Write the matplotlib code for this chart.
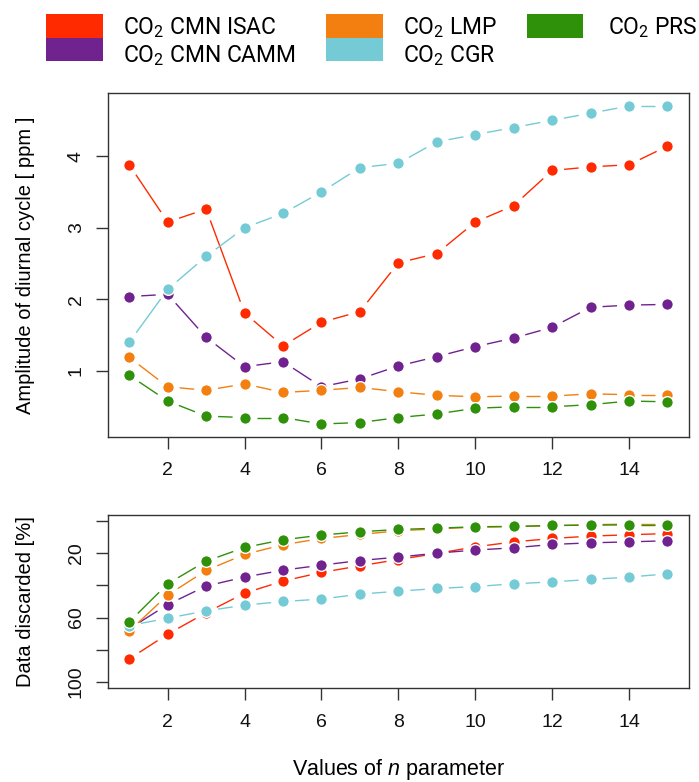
import numpy as np
import matplotlib
matplotlib.use("Agg")
import matplotlib.pyplot as plt
from matplotlib.patches import Rectangle

plt.rcParams["font.family"] = ["Liberation Sans", "DejaVu Sans"]
plt.rcParams["mathtext.fontset"] = "custom"
plt.rcParams["mathtext.it"] = "Liberation Sans:italic"
plt.rcParams["mathtext.default"] = "regular"

# ---- data ----
n_values = list(range(1, 16))
series_names = ["CO$_2$ CMN ISAC", "CO$_2$ CMN CAMM", "CO$_2$ LMP", "CO$_2$ CGR", "CO$_2$ PRS"]
series_colors = ["#FF2A00", "#70228F", "#F27F10", "#74CBD5", "#2F900A"]

# amplitude of diurnal cycle [ppm]
amp_isac = [3.88, 3.08, 3.26, 1.81, 1.35, 1.68, 1.83, 2.51, 2.64, 3.08, 3.31, 3.80, 3.85, 3.88, 4.14]
amp_camm = [2.04, 2.07, 1.47, 1.06, 1.13, 0.78, 0.89, 1.07, 1.20, 1.34, 1.46, 1.61, 1.89, 1.92, 1.93]
amp_lmp = [1.19, 0.78, 0.73, 0.82, 0.70, 0.73, 0.77, 0.71, 0.66, 0.64, 0.65, 0.65, 0.68, 0.67, 0.67]
amp_cgr = [1.40, 2.14, 2.60, 3.00, 3.20, 3.50, 3.84, 3.90, 4.20, 4.30, 4.40, 4.50, 4.60, 4.70, 4.70]
amp_prs = [0.94, 0.58, 0.37, 0.35, 0.35, 0.26, 0.28, 0.35, 0.40, 0.48, 0.50, 0.50, 0.53, 0.58, 0.57]

# data discarded [%]
disc_isac = [85.7, 70.3, 57.0, 44.8, 37.3, 31.9, 27.8, 23.9, 20.1, 16.0, 12.9, 10.8, 9.3, 8.5, 7.7]
disc_camm = [67.0, 51.9, 40.4, 34.8, 30.5, 27.4, 24.5, 22.4, 19.9, 18.0, 16.6, 14.5, 13.5, 12.9, 12.2]
disc_lmp = [68.4, 46.0, 30.7, 20.7, 14.7, 10.8, 8.3, 6.0, 4.8, 3.8, 3.4, 2.9, 2.2, 1.9, 1.9]
disc_cgr = [65.0, 60.4, 55.8, 52.3, 50.0, 48.5, 45.4, 43.6, 41.9, 40.7, 39.0, 37.8, 36.3, 34.8, 32.8]
disc_prs = [62.7, 39.0, 24.9, 16.4, 11.6, 8.7, 6.6, 5.2, 4.4, 3.5, 3.3, 2.7, 2.5, 2.3, 2.3]

amp_series = [amp_isac, amp_camm, amp_lmp, amp_cgr, amp_prs]
disc_series = [disc_isac, disc_camm, disc_lmp, disc_cgr, disc_prs]

disc_ticks = [0, 20, 40, 60, 80, 100]
disc_ticklabels = ["", "20", "", "60", "", "100"]

W, H = 699, 782
GAP = 12.0  # px left blank around each point (R type="b")


def draw_series(ax, x, y, color):
    # segments shortened in display space, then points on top
    pts = ax.transData.transform(np.column_stack([x, y]))
    inv = ax.transData.inverted()
    for p0, p1 in zip(pts[:-1], pts[1:]):
        d = p1 - p0
        length = np.hypot(d[0], d[1])
        if length <= 2 * GAP:
            continue
        u = d / length
        seg = inv.transform(np.array([p0 + u * GAP, p1 - u * GAP]))
        ax.plot(seg[:, 0], seg[:, 1], color=color, lw=1.0, solid_capstyle="butt")
    ax.plot(x, y, "o", color=color, ms=8.4, mec="white", mew=1.0, zorder=3)


def style_axes(ax):
    for sp in ax.spines.values():
        sp.set_color("#333333")
        sp.set_linewidth(1.0)
    ax.tick_params(direction="out", length=8.5, width=1.0, color="#333333",
                   labelsize=14, labelcolor="#111111")
    ax.tick_params(axis="x", pad=10)
    ax.tick_params(axis="y", pad=8, labelrotation=90)
    plt.setp(ax.get_yticklabels(), va="center")


fig = plt.figure(figsize=(W / 100, H / 100), dpi=100)
ax1 = fig.add_axes([107.7 / W, 1 - 436.7 / H, 581.3 / W, 343.4 / H])
ax2 = fig.add_axes([107.7 / W, 1 - 688.3 / H, 581.3 / W, 173.6 / H])

# R-style 4% padding on the ranges
xr = max(n_values) - min(n_values)
xlim = (min(n_values) - 0.04 * xr, max(n_values) + 0.04 * xr)
lo = min(min(s) for s in amp_series)
hi = max(max(s) for s in amp_series)
ax1.set_xlim(*xlim)
ax1.set_ylim(lo - 0.04 * (hi - lo), hi + 0.04 * (hi - lo))
ax2.set_xlim(*xlim)
ax2.set_ylim(100 + 4, 0 - 4)

for ax in (ax1, ax2):
    ax.set_xticks(range(2, 15, 2))

ax1.set_yticks([1, 2, 3, 4])
ax2.set_yticks(disc_ticks)
ax2.set_yticklabels(disc_ticklabels)

for vals, col in zip(amp_series, series_colors):
    draw_series(ax1, n_values, vals, col)
for vals, col in zip(disc_series, series_colors):
    draw_series(ax2, n_values, vals, col)

style_axes(ax1)
style_axes(ax2)

ax1.set_ylabel("Amplitude of diurnal cycle [ ppm ]", fontsize=14.5, va="center")
ax1.yaxis.set_label_coords((25 - 107.7) / 581.3, 0.5)
ax2.set_ylabel("Data discarded [%]", fontsize=14.5, va="center")
ax2.yaxis.set_label_coords((25 - 107.7) / 581.3, 0.5)
ax2.set_xlabel("Values of $\\mathit{n}$ parameter", fontsize=15.5, va="center")
ax2.xaxis.set_label_coords(0.5, -(770 - 688.3) / 173.6)

# legend: three columns of stacked colour blocks
leg_cols = [0, 0, 1, 1, 2]
leg_rows = [0, 1, 0, 1, 0]
patch_x = [46, 326, 527]
patch_w = [57, 57, 56]
text_x = [123, 403, 608]
row_top = [14, 37.5]
row_h = 23.5
row_base = [34, 61.7]
for name, col, c, r in zip(series_names, series_colors, leg_cols, leg_rows):
    fig.add_artist(Rectangle((patch_x[c] / W, 1 - (row_top[r] + row_h) / H),
                             patch_w[c] / W, row_h / H, transform=fig.transFigure,
                             facecolor=col, edgecolor="none"))
    fig.text(text_x[c] / W, 1 - row_base[r] / H, name, fontsize=16.5,
             family=["Roboto", "DejaVu Sans"], va="baseline", ha="left")

fig.savefig("out.png", dpi=100)
